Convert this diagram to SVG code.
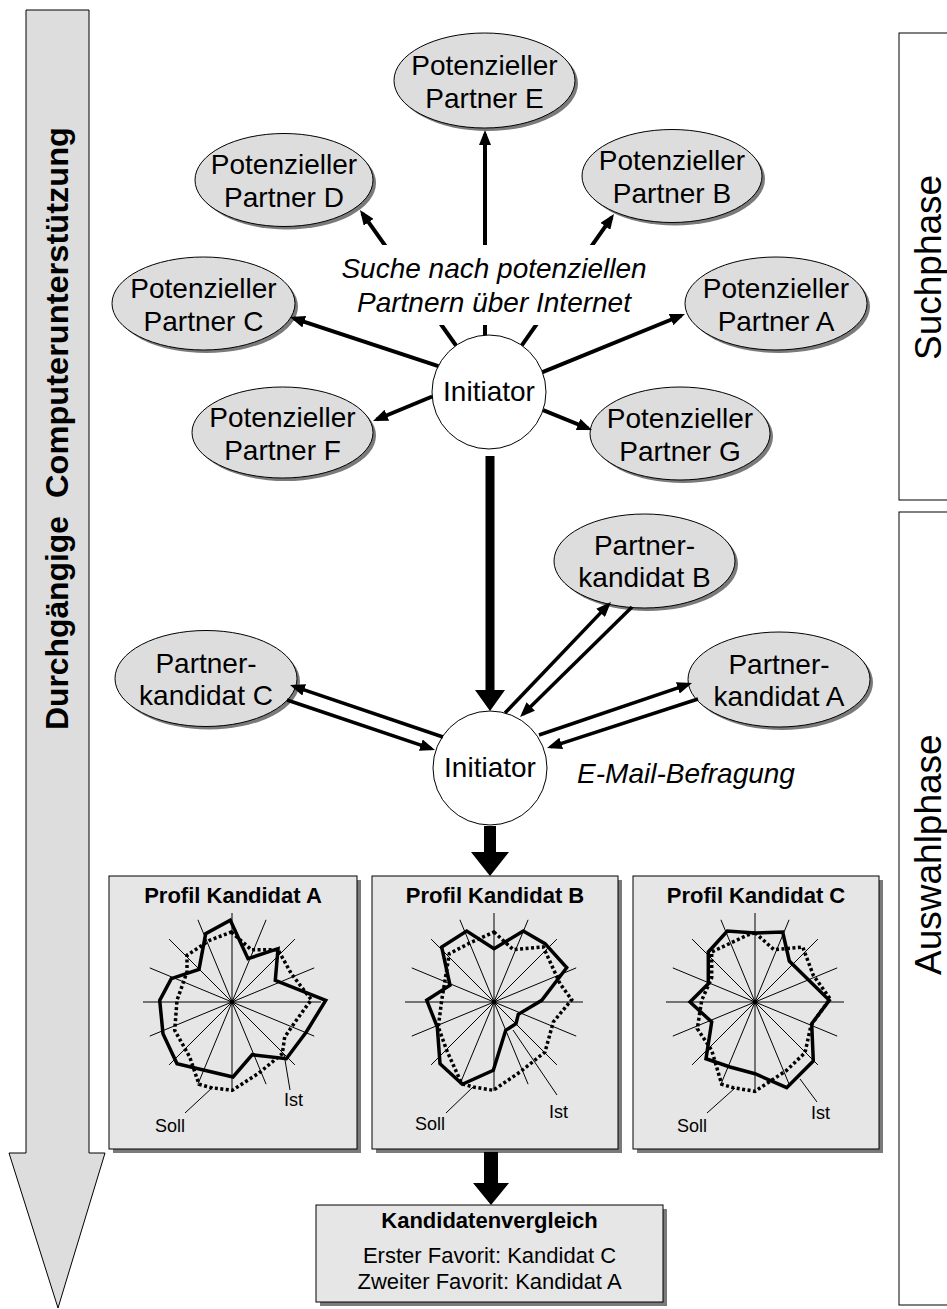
<svg xmlns="http://www.w3.org/2000/svg" xmlns:xlink="http://www.w3.org/1999/xlink" width="947" height="1309" viewBox="0 0 947 1309">
<style>
.ell{fill:#dddddd;stroke:#000;stroke-width:1}
.sh{fill:#7a7a7a}
.circ{fill:#fff;stroke:#000;stroke-width:1}
.t{font-family:"Liberation Sans",Arial,sans-serif;font-size:28px;text-anchor:middle;fill:#000}
.it{font-family:"Liberation Sans",Arial,sans-serif;font-size:28px;font-style:italic;text-anchor:middle;fill:#000}
.arr{stroke:#000;stroke-width:4;fill:none;marker-end:url(#ah)}
.arr2{stroke:#000;stroke-width:3.5;fill:none;marker-end:url(#ah)}
.box{fill:#e6e6e6;stroke:#000;stroke-width:1}
.ttl{font-family:"Liberation Sans",Arial,sans-serif;font-size:22px;font-weight:bold;text-anchor:middle}
.sm{font-family:"Liberation Sans",Arial,sans-serif;font-size:18px}
.t22{font-family:"Liberation Sans",Arial,sans-serif;font-size:22px;text-anchor:middle}
.spk{stroke:#000;stroke-width:1;fill:none}
.ist{stroke:#000;stroke-width:3.5;fill:none;stroke-linejoin:miter}
.soll{stroke:#000;stroke-width:3.5;fill:none;stroke-dasharray:3 2.5}
.phase{font-family:"Liberation Sans",Arial,sans-serif;font-size:37px}
.big{font-family:"Liberation Sans",Arial,sans-serif;font-size:31px;font-weight:bold}
</style>
<defs>
<marker id="ah" markerUnits="userSpaceOnUse" markerWidth="15" markerHeight="12" refX="11" refY="6" orient="auto">
<path d="M0,0 L15,6 L0,12 z" fill="#000"/>
</marker>
<g id="spokes" class="spk">
<line x1="0" y1="-89" x2="0" y2="89"/>
<line x1="34.1" y1="-82.2" x2="-34.1" y2="82.2"/>
<line x1="62.9" y1="-62.9" x2="-62.9" y2="62.9"/>
<line x1="82.2" y1="-34.1" x2="-82.2" y2="34.1"/>
<line x1="-89" y1="0" x2="89" y2="0"/>
<line x1="82.2" y1="34.1" x2="-82.2" y2="-34.1"/>
<line x1="62.9" y1="62.9" x2="-62.9" y2="-62.9"/>
<line x1="34.1" y1="82.2" x2="-34.1" y2="-82.2"/>
<circle r="2.5" fill="#000" stroke="none"/>
</g>
</defs>

<!-- left big arrow -->
<g id="computer-arrow">
<polygon points="26,10 89,10 89,1153 105,1153 58,1308 9,1153 26,1153" fill="#dddddd" stroke="#000" stroke-width="1"/>
<text class="big" transform="translate(68,498) rotate(-90)" textLength="371" lengthAdjust="spacingAndGlyphs">Computerunterstützung</text>
<text class="big" transform="translate(68,730) rotate(-90)" textLength="214" lengthAdjust="spacingAndGlyphs">Durchgängige</text>
</g>

<!-- phase boxes -->
<g id="suchphase">
<rect x="899" y="33" width="70" height="467" fill="#fff" stroke="#000" stroke-width="1"/>
<text class="phase" transform="translate(941,360) rotate(-90)">Suchphase</text>
</g>
<g id="auswahlphase">
<rect x="899" y="512" width="70" height="793" fill="#fff" stroke="#000" stroke-width="1"/>
<text class="phase" transform="translate(941,975) rotate(-90)">Auswahlphase</text>
</g>

<!-- nodes: potential partners -->
<g id="partnerE"><ellipse class="sh" cx="487.5" cy="83.5" rx="90.5" ry="47.5"/><ellipse class="ell" cx="484.5" cy="80.5" rx="90.5" ry="47.5"/><text class="t" x="484.5" y="75">Potenzieller</text><text class="t" x="484.5" y="108">Partner E</text></g>
<g id="partnerD"><ellipse class="sh" cx="287" cy="183" rx="89" ry="46.5"/><ellipse class="ell" cx="284" cy="180" rx="89" ry="46.5"/><text class="t" x="284" y="174">Potenzieller</text><text class="t" x="284" y="207">Partner D</text></g>
<g id="partnerB"><ellipse class="sh" cx="675" cy="179" rx="90" ry="46.5"/><ellipse class="ell" cx="672" cy="176" rx="90" ry="46.5"/><text class="t" x="672" y="170">Potenzieller</text><text class="t" x="672" y="203">Partner B</text></g>
<g id="partnerC"><ellipse class="sh" cx="206.5" cy="306.5" rx="91.5" ry="46.5"/><ellipse class="ell" cx="203.5" cy="303.5" rx="91.5" ry="46.5"/><text class="t" x="203.5" y="297.5">Potenzieller</text><text class="t" x="203.5" y="330.5">Partner C</text></g>
<g id="partnerA"><ellipse class="sh" cx="779" cy="306.5" rx="91" ry="46.5"/><ellipse class="ell" cx="776" cy="303.5" rx="91" ry="46.5"/><text class="t" x="776" y="297.5">Potenzieller</text><text class="t" x="776" y="330.5">Partner A</text></g>
<g id="partnerF"><ellipse class="sh" cx="285.5" cy="435.5" rx="90.5" ry="45.5"/><ellipse class="ell" cx="282.5" cy="432.5" rx="90.5" ry="45.5"/><text class="t" x="282.5" y="426.5">Potenzieller</text><text class="t" x="282.5" y="459.5">Partner F</text></g>
<g id="partnerG"><ellipse class="sh" cx="683" cy="436.5" rx="90" ry="46.5"/><ellipse class="ell" cx="680" cy="433.5" rx="90" ry="46.5"/><text class="t" x="680" y="427.5">Potenzieller</text><text class="t" x="680" y="460.5">Partner G</text></g>

<g id="initiator1"><circle class="circ" cx="489" cy="392" r="57"/><text class="t" x="489" y="401">Initiator</text></g>

<!-- candidates -->
<g id="kandidatB"><ellipse class="sh" cx="647.5" cy="564" rx="90.5" ry="47"/><ellipse class="ell" cx="644.5" cy="561" rx="90.5" ry="47"/><text class="t" x="644.5" y="555">Partner-</text><text class="t" x="644.5" y="587">kandidat B</text></g>
<g id="kandidatA"><ellipse class="sh" cx="782" cy="682.5" rx="91" ry="47.5"/><ellipse class="ell" cx="779" cy="679.5" rx="91" ry="47.5"/><text class="t" x="779" y="673.5">Partner-</text><text class="t" x="779" y="705.5">kandidat A</text></g>
<g id="kandidatC"><ellipse class="sh" cx="209" cy="681.5" rx="91" ry="48"/><ellipse class="ell" cx="206" cy="678.5" rx="91" ry="48"/><text class="t" x="206" y="672.5">Partner-</text><text class="t" x="206" y="704.5">kandidat C</text></g>

<g id="initiator2"><circle class="circ" cx="490" cy="768" r="57"/><text class="t" x="490" y="777">Initiator</text></g>

<!-- profiles -->
<g id="profilA">
<rect class="sh" x="113" y="880" width="248" height="273"/>
<rect class="box" x="109" y="876" width="248" height="273"/>
<text class="ttl" x="233" y="903">Profil Kandidat A</text>
<g transform="translate(232,1002)">
<use xlink:href="#spokes"/>
<polygon class="soll" points="-0.7,-70 19.3,-52.3 46,-52.3 59.3,-28.3 79.3,-2.3 64.3,18.3 52.7,35 50.3,51.7 27,71 0.3,88.3 -20.7,85.7 -33,82.3 -42.3,55 -57.3,28.3 -55,-1.7 -45,-30 -45,-46.7 -22.3,-61.7"/>
<polygon class="ist" points="-1.7,-81.7 16,-43.3 46,-53.3 43.3,-21.7 93.7,-1.7 74.3,30 54.3,56.7 20.3,52.7 1,75 -55,61.7 -69,31.7 -72.3,-1.7 -60.7,-23.3 -33,-32.7 -26.3,-68.3"/>
<line class="spk" x1="-47" y1="111" x2="-19" y2="85"/>
<line class="spk" x1="52" y1="52" x2="58" y2="88"/>
<text class="sm" x="-77" y="130">Soll</text>
<text class="sm" x="52" y="104">Ist</text>
</g>
</g>
<g id="profilB">
<rect class="sh" x="376" y="880" width="246" height="273"/>
<rect class="box" x="372" y="876" width="246" height="273"/>
<text class="ttl" x="495" y="903">Profil Kandidat B</text>
<g transform="translate(494,1002)">
<use xlink:href="#spokes"/>
<polygon class="soll" points="0,-70 19.3,-52.3 49.3,-55 66,-18.3 77.7,-2.3 59.3,20 51,50 26,70 -0.7,88.3 -20.7,85 -32.3,81.7 -47.3,48.3 -55.7,25 -52.3,-1.7 -49,-21.7 -44.7,-48.3 -22.3,-60"/>
<polygon class="ist" points="0,-53.3 29.3,-71 51,-58.3 72.7,-34.3 47.7,-1.7 24.3,12.3 22,21.7 11.7,28.3 -0.7,68.3 -31.7,82.3 -54,61.7 -56.7,25 -67.3,-1.7 -44,-16.7 -52.3,-55 -27.3,-71"/>
<line class="spk" x1="-48" y1="111" x2="-21" y2="85"/>
<line class="spk" x1="19" y1="28" x2="63" y2="93"/>
<text class="sm" x="-79" y="128">Soll</text>
<text class="sm" x="55" y="116">Ist</text>
</g>
</g>
<g id="profilC">
<rect class="sh" x="637" y="880" width="246" height="273"/>
<rect class="box" x="633" y="876" width="246" height="273"/>
<text class="ttl" x="756" y="903">Profil Kandidat C</text>
<g transform="translate(755,1002)">
<use xlink:href="#spokes"/>
<polygon class="soll" points="0,-69.3 19,-52.3 47.7,-55 58.3,-26.7 75,-3.3 56,23.3 50,50.7 31.7,68.3 0,89.3 -21.7,85.7 -33.3,82.3 -43.3,48.3 -57.7,26.7 -53.3,-1.7 -43.3,-24.3 -43.3,-50 -6.7,-67.3"/>
<polygon class="ist" points="0,-69 27.7,-70 34.3,-41 74.3,-1.7 56.7,21.7 58.3,59 31.7,85.7 0,71.7 -25,65 -49,56.7 -43.3,20 -65,0 -46.7,-18.3 -46.7,-50 -27.7,-71"/>
<line class="spk" x1="-48" y1="111" x2="-20" y2="86"/>
<line class="spk" x1="45" y1="77" x2="62" y2="100"/>
<text class="sm" x="-78" y="130">Soll</text>
<text class="sm" x="56" y="117">Ist</text>
</g>
</g>

<g id="vergleich">
<rect class="sh" x="320" y="1209" width="347" height="97"/>
<rect class="box" x="316" y="1205" width="347" height="97"/>
<text class="ttl" x="489.5" y="1228">Kandidatenvergleich</text>
<text class="t22" x="489.5" y="1263">Erster Favorit: Kandidat C</text>
<text class="t22" x="489.5" y="1289">Zweiter Favorit: Kandidat A</text>
</g>

<!-- connectors -->
<g id="connectors">
<line class="arr" x1="485" y1="335" x2="485" y2="134"/>
<line class="arr" x1="456" y1="345.5" x2="362.3" y2="213.3"/>
<line class="arr" x1="521.8" y1="345.4" x2="611.7" y2="217.3"/>
<line class="arr" x1="438.3" y1="366.1" x2="293.8" y2="318.3"/>
<line class="arr" x1="542.5" y1="372.2" x2="681.3" y2="315.5"/>
<line class="arr" x1="432.2" y1="396.5" x2="376.7" y2="419.5"/>
<line class="arr" x1="543.1" y1="410.1" x2="588.3" y2="428.5"/>
<polygon points="485.5,456 494.5,456 494.5,690 505,690 490,711 475,690 485.5,690" fill="#000"/>
<line class="arr2" x1="505" y1="713" x2="608.2" y2="604.9"/>
<line class="arr2" x1="632" y1="607" x2="522.9" y2="714.2"/>
<line class="arr2" x1="539" y1="735" x2="688.2" y2="684.3"/>
<line class="arr2" x1="698" y1="699" x2="550.8" y2="746.8"/>
<line class="arr2" x1="443" y1="737" x2="293.8" y2="686.3"/>
<line class="arr2" x1="287" y1="700" x2="431.2" y2="748.7"/>
<polygon points="484,826 496,826 496,852 509,852 490,876 471,852 484,852" fill="#000"/>
<polygon points="484,1152 498,1152 498,1183 509,1183 491,1205 473,1183 484,1183" fill="#000"/>
</g>

<!-- labels -->
<g id="label-suche">
<rect x="345" y="245" width="295" height="80" fill="#fff"/>
<text class="it" x="494" y="278">Suche nach potenziellen</text>
<text class="it" x="494" y="312">Partnern über Internet</text>
</g>
<g id="label-email">
<text class="it" x="686" y="783">E-Mail-Befragung</text>
</g>
</svg>
